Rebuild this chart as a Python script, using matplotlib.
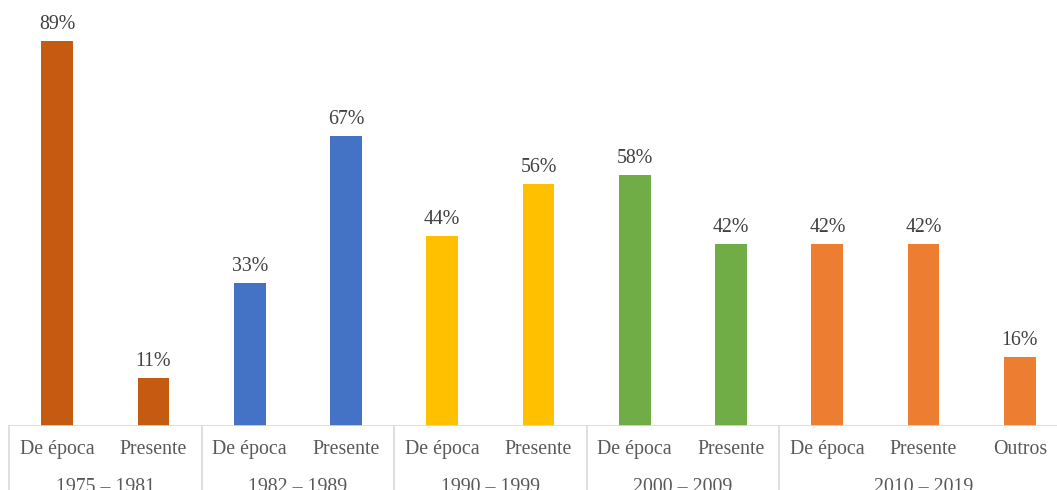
import matplotlib
matplotlib.use('Agg')
from matplotlib import pyplot as plt
import matplotlib.transforms as mtransforms

plt.rcParams['font.family'] = ['Liberation Serif', 'DejaVu Serif']

# data
groups = ['1975 – 1981', '1982 – 1989', '1990 – 1999', '2000 – 2009', '2010 – 2019']
group_labels = [['De época', 'Presente'], ['De época', 'Presente'], ['De época', 'Presente'],
                ['De época', 'Presente'], ['De época', 'Presente', 'Outros']]
group_values = [[89, 11], [33, 67], [44, 56], [58, 42], [42, 42, 16]]
group_colors = ['#C55A11', '#4472C4', '#FFC000', '#70AD47', '#ED7D31']

fig = plt.figure(figsize=(10.57, 4.9), dpi=100)
ax = fig.add_axes([9 / 1057, 64 / 490, 1059 / 1057, 426 / 490])

text_color = '#595959'
line_color = '#D9D9D9'
fs = 14.3

x = 0
bounds = [-0.5]
trans = mtransforms.blended_transform_factory(ax.transData, ax.transAxes)
for g, labels, vals, col in zip(groups, group_labels, group_values, group_colors):
    xs = list(range(x, x + len(vals)))
    bars = ax.bar(xs, vals, width=0.33, color=col)
    # value above each bar
    for rect, v in zip(bars, vals):
        ax.annotate(f'{v}%', (rect.get_x() + rect.get_width() / 2, rect.get_height()),
                    xytext=(0, 5), textcoords='offset points', ha='center', va='bottom',
                    fontsize=fs, color='#404040')
    for xi, lab in zip(xs, labels):
        ax.text(xi, -0.056, lab, transform=trans, ha='center', va='center',
                fontsize=fs, color=text_color, clip_on=False)
    ax.text((xs[0] + xs[-1]) / 2, -0.145, g, transform=trans, ha='center', va='center',
            fontsize=fs, color=text_color, clip_on=False)
    x += len(vals)
    bounds.append(x - 0.5)

# group separators below the axis
for b in bounds:
    ax.plot([b, b], [0, -0.25], transform=trans, color=line_color, lw=1.2, clip_on=False)

ax.axhline(0, color=line_color, lw=1.2)
ax.set_xlim(-0.5, x - 0.5)
ax.set_ylim(0, 98.5)
for s in ax.spines.values():
    s.set_visible(False)
ax.set_xticks([])
ax.set_yticks([])

fig.savefig('out.png', dpi=100)
